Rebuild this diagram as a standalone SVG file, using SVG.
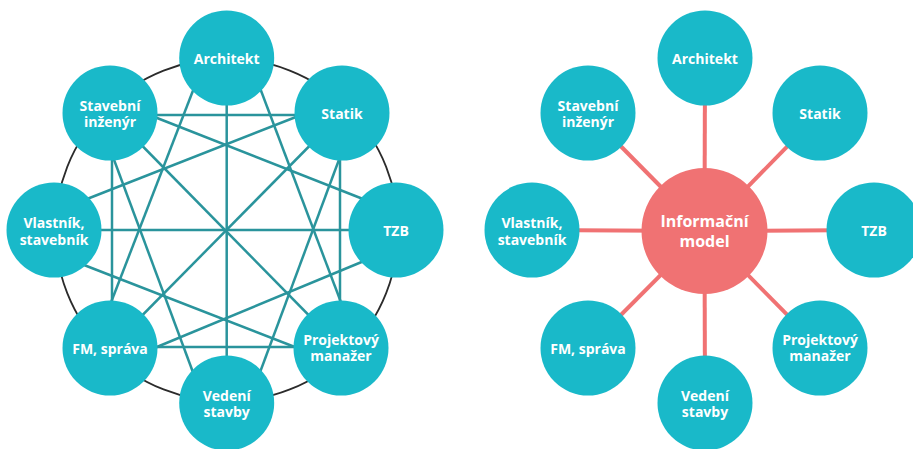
<svg xmlns="http://www.w3.org/2000/svg" width="913" height="449" viewBox="0 0 913 449">
<style>
.node{fill:#19b9c9}
.hub{fill:#f07273}
.t{fill:#ffffff;font-family:"Open Sans","DejaVu Sans",sans-serif;font-weight:700;font-size:14px;text-anchor:middle}
.th{font-size:16px}
.ring{fill:none;stroke:#2b2b2b;stroke-width:1.8}
.mesh line{stroke:#2a949c;stroke-width:2.5}
.spokes line{stroke:#f07273;stroke-width:4}
</style>
<rect width="913" height="449" fill="#ffffff"/>
<g id="connectors">
<circle class="ring" cx="226.7" cy="230" r="171.5"/>
<g class="mesh">
<line x1="150" y1="115" x2="303" y2="115"/>
<line x1="152" y1="116" x2="363" y2="199"/>
<line x1="301" y1="115" x2="87" y2="199"/>
<line x1="110" y1="113" x2="341" y2="348"/>
<line x1="342" y1="113" x2="110" y2="348"/>
<line x1="226.7" y1="58" x2="226.7" y2="403"/>
<line x1="54" y1="230" x2="396" y2="230"/>
<line x1="112" y1="150" x2="112" y2="310"/>
<line x1="340" y1="150" x2="340" y2="310"/>
<line x1="113" y1="157" x2="194" y2="375"/>
<line x1="340" y1="157" x2="259" y2="375"/>
<line x1="194" y1="88" x2="110" y2="305"/>
<line x1="260" y1="88" x2="342" y2="305"/>
<line x1="84" y1="265" x2="300" y2="349"/>
<line x1="364" y1="261" x2="152" y2="349"/>
<line x1="150" y1="347" x2="303" y2="347"/>
</g>
<g class="spokes">
<line x1="704.5" y1="231" x2="705" y2="58"/>
<line x1="704.5" y1="231" x2="820" y2="113"/>
<line x1="704.5" y1="231" x2="874" y2="230"/>
<line x1="704.5" y1="231" x2="820" y2="348"/>
<line x1="704.5" y1="231" x2="705" y2="403"/>
<line x1="704.5" y1="231" x2="588" y2="348"/>
<line x1="704.5" y1="231" x2="532" y2="230"/>
<line x1="704.5" y1="231" x2="588" y2="113"/>
</g>
</g>
<g id="L-architekt"><circle class="node" cx="226.7" cy="58" r="47.5"/><text class="t" x="226.7" y="64">Architekt</text></g>
<g id="L-statik"><circle class="node" cx="342" cy="113" r="47.5"/><text class="t" x="342" y="119">Statik</text></g>
<g id="L-tzb"><circle class="node" cx="396" cy="230" r="47.5"/><text class="t" x="396" y="236">TZB</text></g>
<g id="L-projektovy"><circle class="node" cx="341" cy="348" r="47.5"/><text class="t" x="341" y="345">Projektový</text><text class="t" x="341" y="361">manažer</text></g>
<g id="L-vedeni"><circle class="node" cx="226.7" cy="403" r="47.5"/><text class="t" x="226.7" y="401">Vedení</text><text class="t" x="226.7" y="417">stavby</text></g>
<g id="L-fm"><circle class="node" cx="110" cy="348" r="47.5"/><text class="t" x="110" y="354">FM, správa</text></g>
<g id="L-vlastnik"><circle class="node" cx="54" cy="230" r="47.5"/><text class="t" x="54" y="228">Vlastník,</text><text class="t" x="54" y="245">stavebník</text></g>
<g id="L-stavebni"><circle class="node" cx="110" cy="113" r="47.5"/><text class="t" x="110" y="111">Stavební</text><text class="t" x="110" y="127">inženýr</text></g>
<g id="R-hub"><circle class="hub" cx="704.5" cy="231" r="63"/><text class="t th" x="704.5" y="227">Informační</text><text class="t th" x="704.5" y="247">model</text></g>
<g id="R-architekt"><circle class="node" cx="705" cy="58" r="47.5"/><text class="t" x="705" y="64">Architekt</text></g>
<g id="R-statik"><circle class="node" cx="820" cy="113" r="47.5"/><text class="t" x="820" y="119">Statik</text></g>
<g id="R-tzb"><circle class="node" cx="874" cy="230" r="47.5"/><text class="t" x="874" y="236">TZB</text></g>
<g id="R-projektovy"><circle class="node" cx="820" cy="348" r="47.5"/><text class="t" x="820" y="345">Projektový</text><text class="t" x="820" y="361">manažer</text></g>
<g id="R-vedeni"><circle class="node" cx="705" cy="403" r="47.5"/><text class="t" x="705" y="401">Vedení</text><text class="t" x="705" y="417">stavby</text></g>
<g id="R-fm"><circle class="node" cx="588" cy="348" r="47.5"/><text class="t" x="588" y="354">FM, správa</text></g>
<g id="R-vlastnik"><circle class="node" cx="532" cy="230" r="47.5"/><text class="t" x="532" y="228">Vlastník,</text><text class="t" x="532" y="245">stavebník</text></g>
<g id="R-stavebni"><circle class="node" cx="588" cy="113" r="47.5"/><text class="t" x="588" y="111">Stavební</text><text class="t" x="588" y="127">inženýr</text></g>
</svg>
